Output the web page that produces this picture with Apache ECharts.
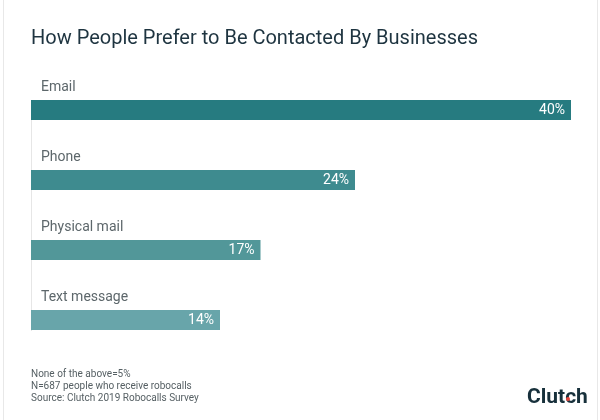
<!DOCTYPE html>
<html>
<head>
<meta charset="utf-8">
<script src="https://cdn.jsdelivr.net/npm/echarts@6/dist/echarts.min.js"></script>
<style>html,body{margin:0;padding:0;background:#fff}#c{width:600px;height:420px}</style>
</head>
<body>
<div id="c"></div>
<script>
var categories = ['Email', 'Phone', 'Physical mail', 'Text message'];
var values = [40, 24, 17, 14];
var barColors = ['#267b80', '#3e8b8f', '#529799', '#68a5aa'];
var notes = ['None of the above=5%', 'N=687 people who receive robocalls', 'Source: Clutch 2019 Robocalls Survey'];

var chart = echarts.init(document.getElementById('c'));
chart.setOption({
  animation: false,
  backgroundColor: '#fff',
  title: {
    text: 'How People Prefer to Be Contacted By Businesses',
    left: 26, top: 24,
    textStyle: {fontFamily: 'Roboto', fontSize: 20, fontWeight: 'normal', color: '#1e3440'}
  },
  grid: {left: 31, right: 29, top: 75, height: 280},
  xAxis: {type: 'value', min: 0, max: 40, show: false},
  yAxis: {
    type: 'category', data: categories, inverse: true,
    axisLine: {show: false}, axisTick: {show: false}, splitLine: {show: false},
    axisLabel: {
      inside: true, margin: 10, align: 'left', verticalAlign: 'bottom',
      padding: [0, 0, 16, 0],
      fontFamily: 'Roboto', fontSize: 14, color: '#5d676b'
    }
  },
  series: [{
    type: 'bar', barWidth: 20,
    data: values.map(function (v, i) { return {value: v, itemStyle: {color: barColors[i]}}; }),
    label: {
      show: true, position: 'insideRight', distance: 6,
      formatter: '{c}%', color: '#fff', fontFamily: 'Roboto', fontSize: 14
    }
  }],
  graphic: [
    {type: 'line', shape: {x1: 31.5, y1: 100, x2: 31.5, y2: 331}, style: {stroke: '#e6e6e6', lineWidth: 1}, z: -1},
    {type: 'line', shape: {x1: 3.5, y1: 0, x2: 3.5, y2: 420}, style: {stroke: '#e8e8e8', lineWidth: 1}},
    {type: 'line', shape: {x1: 597.5, y1: 0, x2: 597.5, y2: 420}, style: {stroke: '#e8e8e8', lineWidth: 1}},
    {type: 'text', left: 31, top: 368, style: {text: notes.join('\n'), font: '10px Roboto', fill: '#555f63', lineHeight: 12}},
    {type: 'text', left: 527, top: 387, style: {text: 'Clutch', font: 'bold 21px Roboto', fill: '#17303b'}},
    {type: 'circle', shape: {cx: 568, cy: 399, r: 2}, style: {fill: '#e8453c'}}
  ]
});
</script>
</body>
</html>
